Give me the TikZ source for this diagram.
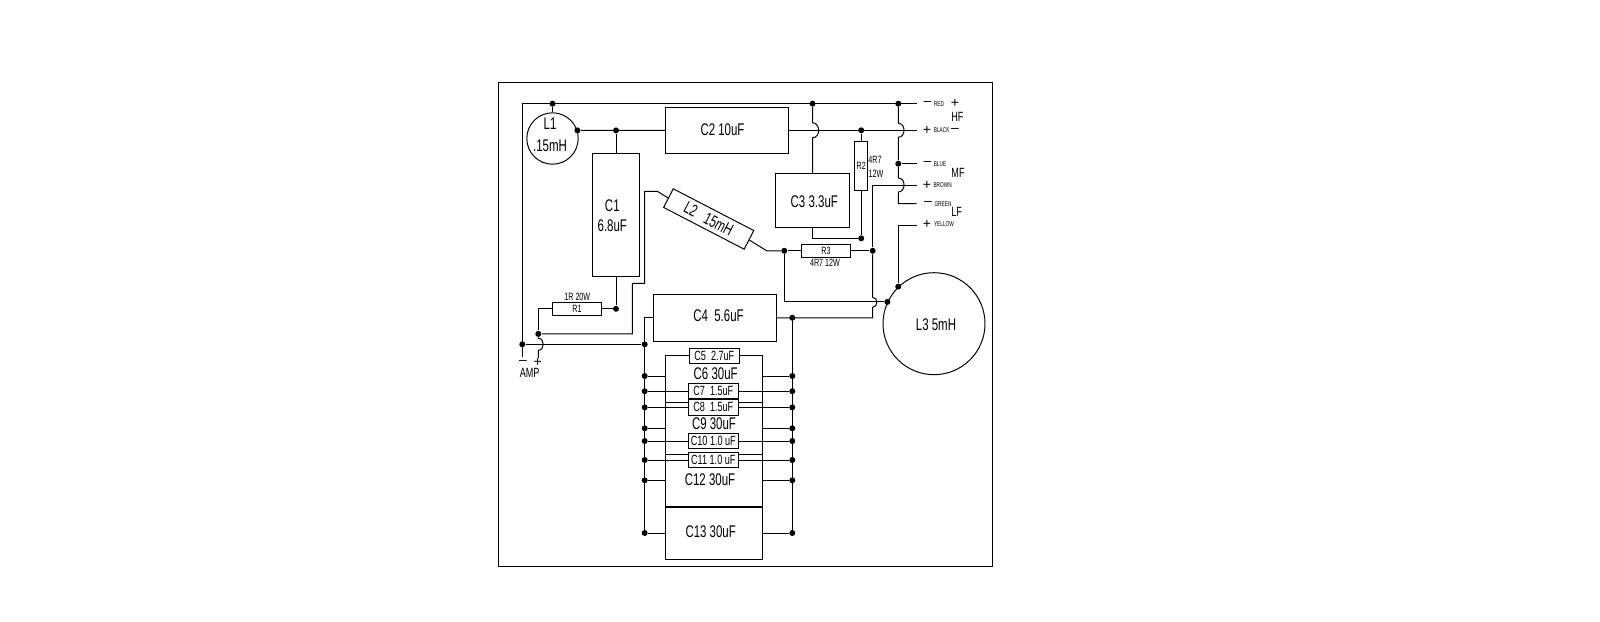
\documentclass[tikz,border=0pt]{standalone}
\usepackage{fontspec}
\setmainfont[FakeStretch=0.68]{Liberation Sans}
\newfontfamily\signfont{Liberation Sans}
\def\px{0.025cm}
\tikzset{
	box/.style={draw, fill=white, inner sep=0pt, align=center},
	coil/.style={draw, circle, inner sep=0pt},
	dot/.style={circle, fill=black, inner sep=0pt, minimum size=6*\px},
	jump/.style={out=0, in=0, looseness=1.4},
	big/.style={inner sep=0pt, font=\fontsize{12}{12}\selectfont},
	mid/.style={inner sep=0pt, font=\fontsize{9.5}{9.5}\selectfont},
	small/.style={inner sep=0pt, font=\fontsize{7.5}{7.5}\selectfont},
	tiny/.style={inner sep=0pt, font=\fontsize{5}{5}\selectfont},
	sign/.style={inner sep=0pt, font=\signfont\fontsize{10}{10}\selectfont}
}

\begin{document}
\begin{tikzpicture}[x=0.025cm, y=-0.025cm, line width=0.7pt]
	\useasboundingbox (0,0) rectangle (1600,622);
	\node[box, minimum width=494*\px, minimum height=484*\px] (frame) at (745.5,324.7) {};

	% parts
	\node[coil, minimum size=51.4*\px] (L1) at (552.5,138.5) {};
	\node[coil, minimum size=102*\px] (L3) at (934,323.7) {};
	\node[box, minimum width=123.4*\px, minimum height=46*\px] (C2) at (727,130.3) {};
	\node[box, minimum width=47.4*\px, minimum height=123.4*\px] (C1) at (616,215) {};
	\node[box, minimum width=73.6*\px, minimum height=54.4*\px] (C3) at (812.5,200.5) {};
	\node[box, minimum width=123.4*\px, minimum height=47*\px] (C4) at (715,317.8) {};
	\node[box, big, rotate=-27.4, minimum width=90.7*\px, minimum height=21*\px] (L2) at (708.7,219) {L2\ \ \ 15mH};
	\node[box, small, minimum width=13*\px, minimum height=49.4*\px] (R2) at (861.2,166) {R2};
	\node[box, small, minimum width=49.4*\px, minimum height=13*\px] (R3) at (826,250.8) {R3};
	\node[box, small, minimum width=49.4*\px, minimum height=13*\px] (R1) at (577,308.8) {R1};

	% capacitor stack
	\node[box, minimum width=97.4*\px, minimum height=47*\px] (C6) at (714,378.8) {};
	\node[box, minimum width=97.4*\px, minimum height=52*\px] (C9) at (714,428.3) {};
	\node[box, minimum width=97.4*\px, minimum height=52.2*\px] (C12) at (714,480.4) {};
	\node[box, minimum width=97.4*\px, minimum height=51.8*\px] (C13) at (714,533.4) {};
	\node[box, mid, minimum width=50*\px, minimum height=14.6*\px] (C5) at (714.3,356) {C5\ \ 2.7uF};
	\node[box, mid, minimum width=50*\px, minimum height=15*\px] (C7) at (713.3,391.2) {C7\ \ 1.5uF};
	\node[box, mid, minimum width=50*\px, minimum height=15.3*\px] (C8) at (713.3,407.4) {C8\ \ 1.5uF};
	\node[box, mid, minimum width=50*\px, minimum height=14.6*\px] (C10) at (713.3,441) {C10 1.0 uF};
	\node[box, mid, minimum width=50*\px, minimum height=14.6*\px] (C11) at (713.3,460) {C11 1.0 uF};

	% texts
	\node[big] (tL1a) at (550,124) {L1};
	\node[big] (tL1b) at (550,145.7) {.15mH};
	\node[big] (tL3) at (936,324.3) {L3\ 5mH};
	\node[big] (tC1a) at (612.3,205.7) {C1};
	\node[big] (tC1b) at (612.3,226) {6.8uF};
	\node[big] (tC2) at (722.5,130) {C2\ 10uF};
	\node[big] (tC3) at (814.3,201.7) {C3 3.3uF};
	\node[big] (tC4) at (718.5,316) {C4\ \ 5.6uF};
	\node[big] (tC6) at (715.7,374) {C6 30uF};
	\node[big] (tC9) at (714,424) {C9 30uF};
	\node[big] (tC12) at (710,479.3) {C12 30uF};
	\node[big] (tC13) at (710.7,531.7) {C13 30uF};
	\node[small] (tR1) at (577.3,296.7) {1R 20W};
	\node[small] (tR2a) at (875,160) {4R7};
	\node[small] (tR2b) at (876,174) {12W};
	\node[small] (tR3) at (825,263.3) {4R7\ 12W};
	\node[sign] (tAmpM) at (523,362.7) {–};
	\node[sign] (tAmpP) at (537.7,362.7) {+};
	\node[mid] (tAmp) at (529.7,373.3) {AMP};

	\node[sign] (sRedA) at (927.5,103.7) {–};
	\node[tiny] (tRed) at (939,103.7) {RED};
	\node[sign] (sRedB) at (955,103.7) {+};
	\node[mid] (tHF) at (957.3,116.7) {HF};
	\node[sign] (sBlackA) at (927,130) {+};
	\node[tiny] (tBlack) at (941.7,130) {BLACK};
	\node[sign] (sBlackB) at (955,130) {–};
	\node[sign] (sBlue) at (927.5,163.7) {–};
	\node[tiny] (tBlue) at (940,163.7) {BLUE};
	\node[mid] (tMF) at (958,172.7) {MF};
	\node[sign] (sBrown) at (927,185) {+};
	\node[tiny] (tBrown) at (942.7,185) {BROWN};
	\node[sign] (sGreen) at (928,203.7) {–};
	\node[tiny] (tGreen) at (943,203.7) {GREEN};
	\node[mid] (tLF) at (956.7,212.3) {LF};
	\node[sign] (sYellow) at (927,224.3) {+};
	\node[tiny] (tYellow) at (944,224.3) {YELLOW};

	% junctions
	\node[dot] (dL1t) at (L1.north |- 0,103.7) {};
	\node[dot] (dL1) at (L1.18) {};
	\node[dot] (dC1) at (C1.north |- dL1) {};
	\node[dot] (dC3) at (C3.north |- 0,103.7) {};
	\node[dot] (dRed) at (898.3,103.7) {};
	\node[dot] (dBlue) at (898.3,163.7) {};
	\node[dot] (dR2t) at (R2.north |- C2.east) {};
	\node[dot] (dR2b) at (R2.south |- 0,238.3) {};
	\node[dot] (dR3w) at (784.3,250.8) {};
	\node[dot] (dR3e) at (872.7,250.8) {};
	\node[dot] (dL3w) at (L3.155) {};
	\node[dot] (dL3n) at (L3.134) {};
	\node[dot] (dR1) at (C1.south |- R1.east) {};
	\node[dot] (dAmp) at (538.3,333.9) {};
	\node[dot] (dBusA) at (522.3,344.3) {};
	\node[dot] (dBusB) at (644.7,344.3) {};
	\node[dot] (dC4) at (792.3,317.8) {};
	\foreach \name/\y in {6/376, 7/391.2, 8/407.4, 9/428.3, 10/441, 11/460, 12/480.3, 13/533}{
		\node[dot] (dl\name) at (644.7,\y) {};
		\node[dot] (dr\name) at (792.3,\y) {};
	}

	% free ends and bends
	\coordinate (eRed) at (916.7,103.7);
	\coordinate (eBlack) at (916.7,130.3);
	\coordinate (eBlue) at (916.7,163.7);
	\coordinate (eBrown) at (916.7,185);
	\coordinate (eGreen) at (916.7,203.7);
	\coordinate (eYellow) at (916.7,225);
	\coordinate (eAmpA) at (522.3,357.3);
	\coordinate (eAmpB) at (538.3,358);
	\coordinate (cTL) at (522.3,103.7);
	\coordinate (j1a) at (812.5,122.8);
	\coordinate (j1b) at (812.5,137.8);
	\coordinate (j2a) at (898.3,123.3);
	\coordinate (j2b) at (898.3,137.3);
	\coordinate (j3a) at (898.3,178);
	\coordinate (j3b) at (898.3,192);
	\coordinate (j4a) at (872.7,297.3);
	\coordinate (j4b) at (872.7,307.3);
	\coordinate (j5a) at (538.3,338.3);
	\coordinate (j5b) at (538.3,350.3);
	\coordinate (cL2a) at (657.3,191.3);
	\coordinate (cL2b) at (644.7,191.3);
	\coordinate (cL2c) at (644.7,283.3);
	\coordinate (cL2d) at (632.3,283.3);
	\coordinate (cL2e) at (632.3,333.9);
	\coordinate (cL2f) at (766.7,250.8);

	% wires
	\draw (eAmpA) -- (cTL) -- (eRed);
	\draw (dL1t) -- (L1.north);
	\draw (dL1) -- (C2.west);
	\draw (dC1) -- (C1.north);
	\draw (C2.east) -- (eBlack);
	\draw (dC3) -- (j1a) to[jump] (j1b) -- (C3.north);
	\draw (C3.south) |- (dR2b);
	\draw (dR2t) -- (R2.north);
	\draw (R2.south) -- (dR2b);
	\draw (dRed) -- (j2a) to[jump] (j2b) -- (dBlue) -- (j3a) to[jump] (j3b) |- (eGreen);
	\draw (dBlue) -- (eBlue);
	\draw (eBrown) -| (dR3e);
	\draw (dR3e) -- (j4a) to[jump] (j4b) |- (C4.east);
	\draw (R3.east) -- (dR3e);
	\draw (R3.west) -- (dR3w);
	\draw (L2.east) -- (cL2f) -- (dR3w);
	\draw (L2.west) -- (cL2a) -- (cL2b) -- (cL2c) -- (cL2d) -- (cL2e) -- (dAmp);
	\draw (dR3w) |- (dL3w);
	\draw (dL3n) |- (eYellow);
	\draw (C1.south) -- (dR1);
	\draw (R1.east) -- (dR1);
	\draw (R1.west) -| (dAmp);
	\draw (dAmp) -- (j5a) to[jump] (j5b) -- (eAmpB);
	\draw (dBusA) -- (dBusB);
	\draw (C4.west) -| (dl13);
	\draw (dC4) -- (dr13);
	\foreach \name/\part in {6/C6, 9/C9, 12/C12, 13/C13}{
		\draw (dl\name) -- (\part.west |- dl\name);
		\draw (\part.east |- dr\name) -- (dr\name);
	}
	\foreach \name/\part in {7/C7, 8/C8, 10/C10, 11/C11}{
		\draw (dl\name) -- (\part.west);
		\draw (\part.east) -- (dr\name);
	}
\end{tikzpicture}
\end{document}
